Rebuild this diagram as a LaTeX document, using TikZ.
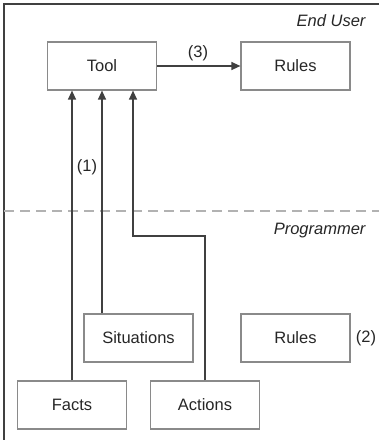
\documentclass[tikz,border=0pt]{standalone}
\usepackage{fontspec}
\setmainfont{Liberation Sans}
\usetikzlibrary{arrows.meta}
\definecolor{boxgray}{HTML}{8A8A8A}
\definecolor{linegray}{HTML}{404040}
\begin{document}
\begin{tikzpicture}[x=1pt,y=-1pt,
  box/.style={draw=boxgray,line width=1.2pt,minimum width=109pt,minimum height=48pt,inner sep=0pt,font=\fontsize{16.5}{18}\selectfont,text=black!85},
  conn/.style={draw=linegray,line width=1.3pt,-{Triangle[length=9pt,width=8pt]}},
  lbl/.style={font=\fontsize{16.5}{18}\selectfont,text=black!85},
  role/.style={font=\fontsize{16.5}{18}\selectfont\itshape,text=black!85,anchor=east}]
\useasboundingbox (0,0) rectangle (379,440);
\draw[linegray,line width=1.2pt] (4,440) -- (4,4) -- (379,4);
\draw[gray!60,line width=1.2pt,dash pattern=on 10pt off 6pt] (4,211) -- (379,211);
\node[role] (eu) at (369,21) {End User};
\node[role] (pg) at (369,231) {Programmer};
\node[box] (tool) at (102,66) {Tool};
\node[box] (rules1) at (295.5,66) {Rules};
\node[box] (sit) at (138.5,338) {Situations};
\node[box] (rules2) at (295.5,338) {Rules};
\node[box] (facts) at (72,405) {Facts};
\node[box] (act) at (205,405) {Actions};
\node[lbl] (l3) at (198,53) {(3)};
\node[lbl] (l1) at (87,167) {(1)};
\node[lbl] (l2) at (366,338) {(2)};
\coordinate (bend) at (act.north |- 0,236);
\coordinate (tin) at (133,0);
\draw[conn] (facts.north) -- (facts.north |- tool.south);
\draw[conn] (sit.north -| tool.south) -- (tool.south);
\draw[conn] (act.north) -- (bend) -- (bend -| tin) -- (tin |- tool.south);
\draw[conn] (tool) -- (rules1);
\end{tikzpicture}
\end{document}
